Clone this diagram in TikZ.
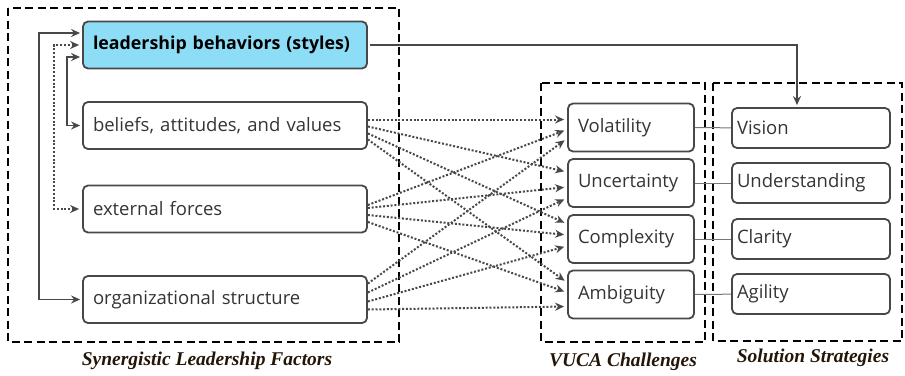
\documentclass[tikz,border=0pt]{standalone}
\usepackage{fontspec}
\setmainfont{Open Sans}
\newfontfamily\capfont{Liberation Serif}
\usepackage{tikz}
\usepackage{xcolor}
\usetikzlibrary{arrows.meta}

\definecolor{boxblue}{RGB}{142,221,246}
\definecolor{linegray}{RGB}{72,72,72}
\definecolor{textgray}{RGB}{52,52,52}
\definecolor{capdark}{RGB}{35,22,8}

\tikzset{
  factor/.style={draw=linegray, line width=1.8pt, rounded corners=5pt, text width=264pt, inner xsep=10pt, minimum height=47pt, align=left, text=textgray, font=\fontsize{18.5}{21}\selectfont},
  vuca/.style={draw=linegray, line width=1.8pt, rounded corners=5pt, text width=106pt, inner xsep=10pt, minimum height=48pt, align=left, text=textgray, font=\fontsize{18.5}{21}\selectfont},
  strategy/.style={draw=linegray, line width=1.8pt, rounded corners=5pt, text width=148pt, inner xsep=5pt, minimum height=40pt, align=left, text=textgray, font=\fontsize{18.5}{21}\selectfont},
  frame/.style={draw=black, line width=1.6pt, dash pattern=on 8pt off 4.5pt},
  caption/.style={text=capdark, font=\capfont\bfseries\itshape\fontsize{19.5}{22}\selectfont},
  link/.style={draw=linegray, line width=1.9pt, shorten >=2pt, shorten <=2pt},
  dotlink/.style={draw=linegray, line width=2pt, dash pattern=on 2pt off 1.8pt, shorten >=3pt},
  pairlink/.style={draw=linegray!75, line width=1pt}
}

\begin{document}
\begin{tikzpicture}[x=1pt, y=-1pt, >={Stealth[length=9pt,width=8pt]}]
  \useasboundingbox (0,0) rectangle (905,375);

  % group frames
  \draw[frame] (8,8) rectangle (399,342);
  \draw[frame] (541,83) rectangle (705,342);
  \draw[frame] (713,83) rectangle (902,341);

  % synergistic leadership factors
  \node[factor, fill=boxblue, text=black, font=\bfseries\fontsize{17.8}{21}\selectfont] (leader) at (225,45) {leadership behaviors (styles)};
  \node[factor] (beliefs) at (225,125.5) {beliefs, attitudes, and values};
  \node[factor] (external) at (225,209) {external forces};
  \node[factor] (org) at (225,299.5) {organizational structure};

  % vuca challenges
  \node[vuca] (vol) at (631,127.5) {Volatility};
  \node[vuca] (unc) at (631,183) {Uncertainty};
  \node[vuca] (com) at (631,239) {Complexity};
  \node[vuca] (amb) at (631,294.5) {Ambiguity};

  % solution strategies
  \node[strategy] (vision) at (811,128) {Vision};
  \node[strategy] (underst) at (811,183) {Understanding};
  \node[strategy] (clarity) at (811,239) {Clarity};
  \node[strategy] (agility) at (811,294) {Agility};

  \node[caption] (capslf) at (207,361) {Synergistic Leadership Factors};
  \node[caption] (capvuca) at (623,362) {VUCA Challenges};
  \node[caption] (capsol) at (813,358) {Solution Strategies};

  % feedback loops on the left
  \draw[link,<->] ([yshift=12pt]leader.west) -- ++(-43,0) |- (org.west);
  \draw[dotlink,<->, shorten <=3pt] (leader.west) -- ++(-28,0) |- (external.west);
  \draw[link,<->] ([yshift=-12pt]leader.west) -- ++(-15,0) |- (beliefs.west);

  % leadership to vision
  \draw[link,->] (leader.east) -| ([xshift=-14pt]vision.north);

  % factors to challenges
  \draw[dotlink,->] ([yshift=6pt]beliefs.east) -- ([yshift=8pt]vol.west);
  \draw[dotlink,->] ([yshift=-1pt]beliefs.east) -- ([yshift=11pt]unc.west);
  \draw[dotlink,->] ([yshift=-8pt]beliefs.east) -- ([yshift=15pt]com.west);
  \draw[dotlink,->] ([yshift=-14pt]beliefs.east) -- ([yshift=12pt]amb.west);

  \draw[dotlink,->] ([yshift=4pt]external.east) -- ([yshift=-2pt]vol.west);
  \draw[dotlink,->] ([yshift=1pt]external.east) -- ([yshift=-4pt]unc.west);
  \draw[dotlink,->] ([yshift=-6pt]external.east) -- ([yshift=4pt]com.west);
  \draw[dotlink,->] ([yshift=-13pt]external.east) -- ([yshift=2pt]amb.west);

  \draw[dotlink,->] ([yshift=16pt]org.east) -- ([yshift=-11pt]vol.west);
  \draw[dotlink,->] ([yshift=7pt]org.east) -- ([yshift=-15pt]unc.west);
  \draw[dotlink,->] ([yshift=-2pt]org.east) -- ([yshift=-7pt]com.west);
  \draw[dotlink,->] ([yshift=-10pt]org.east) -- ([yshift=-12pt]amb.west);

  % challenges to strategies
  \draw[pairlink] (vol) -- (vision);
  \draw[pairlink] (unc) -- (underst);
  \draw[pairlink] (com) -- (clarity);
  \draw[pairlink] (amb) -- (agility);
\end{tikzpicture}
\end{document}
